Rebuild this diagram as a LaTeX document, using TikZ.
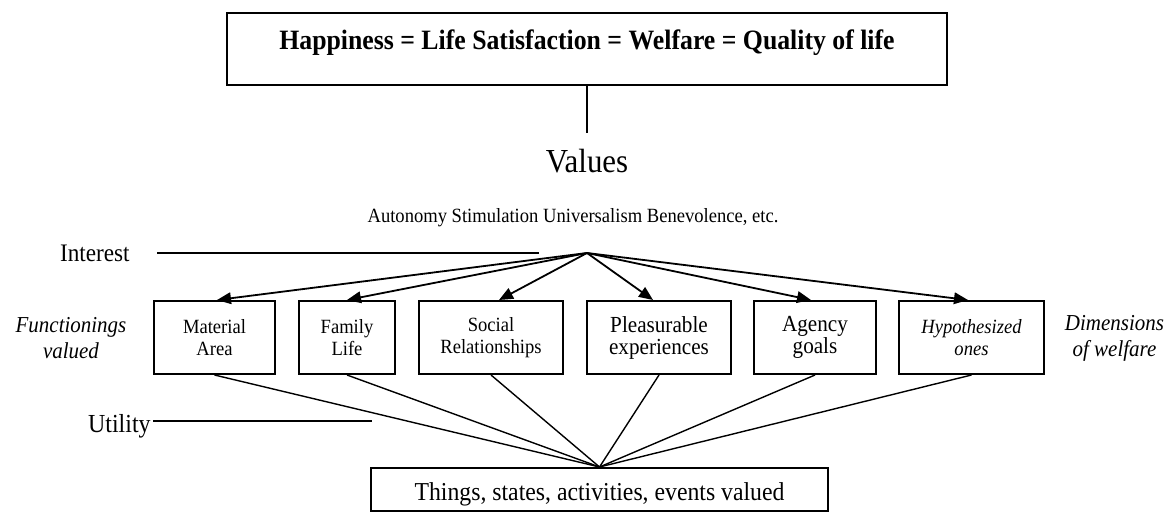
\documentclass[tikz,border=0pt]{standalone}
\usepackage{fontspec}
\setmainfont[FakeStretch=0.92]{Liberation Serif}
\usetikzlibrary{arrows.meta}
\newcommand{\fsz}[2]{\fontsize{#1}{#2}\selectfont}
\begin{document}
\begin{tikzpicture}[x=0.5pt,y=-0.5pt,
  dimbox/.style={draw, line width=1pt, inner sep=0pt, minimum height=36.5pt,
                 align=center, font=\fsz{10.1}{11}},
  bigdim/.style={dimbox, font=\fsz{11.5}{11}},
  side/.style={align=center, inner sep=0pt, font=\itshape\fsz{11.4}{13}},
  link/.style={line width=0.9pt, -{Triangle[length=7pt,width=5.8pt]}},
  tie/.style={line width=0.7pt},
  rule/.style={line width=0.75pt}]
\useasboundingbox (0,0) rectangle (1167,513);

% headline box
\node[draw, line width=1pt, inner sep=0pt, minimum width=360pt,
      text height=18.5pt, text depth=17.5pt, font=\bfseries\fsz{14}{16},
      anchor=base] (title) at (587,50)
  {Happiness = Life Satisfaction = Welfare = Quality of life};

% values
\node[font=\fsz{16.8}{19}, anchor=base, inner sep=0pt] (values) at (587,173) {Values};
\coordinate (valtop) at (587,133);
\draw[line width=0.6pt] (title.south) -- (valtop);

\node[font=\fsz{10.1}{12}, anchor=base, inner sep=0pt] (vlist) at (573,223)
  {Autonomy Stimulation Universalism Benevolence, etc.};

% interest level
\coordinate (apex) at (587,253);
\node[font=\fsz{12.6}{14}, anchor=base east, inner sep=0pt] (interest) at (130,262) {Interest};
\coordinate (intA) at (157,253);
\coordinate (intB) at (539,253);
\draw[rule] (intA) -- (intB);

% dimensions of welfare
\node[dimbox, minimum width=60.5pt] (mat) at (214.5,337.5) {Material\\Area};
\node[dimbox, minimum width=48pt] (fam) at (347,337.5) {Family\\Life};
\node[dimbox, minimum width=72pt] (soc) at (491,337.5) {Social\\Relationships};
\node[bigdim, minimum width=72pt] (pls) at (659,337.5) {Pleasurable\\experiences};
\node[bigdim, minimum width=61pt] (agc) at (815,337.5) {Agency\\goals};
\node[dimbox, minimum width=72.5pt, font=\itshape\fsz{10.1}{11}] (hyp) at (971.5,337.5) {Hypothesized\\ones};

\node[side] (fv) at (71,338) {Functionings\\valued};
\node[side] (dw) at (1114.5,338) {Dimensions\\of welfare};

\draw[link] (apex) -- ([xshift=1.25pt]mat.north);
\draw[link] (apex) -- (fam.north);
\draw[link] (apex) -- ([xshift=4pt]soc.north);
\draw[link] (apex) -- ([xshift=-3pt]pls.north);
\draw[link] (apex) -- ([xshift=-2pt]agc.north);
\draw[link] (apex) -- ([xshift=-1.75pt]hyp.north);

% valued things
\node[draw, line width=1pt, inner sep=0pt, minimum width=228.5pt,
      text height=16pt, text depth=5.5pt, font=\fsz{12.9}{14},
      anchor=base] (things) at (599.5,500)
  {Things, states, activities, events valued};

\foreach \b in {mat,fam,soc,pls,agc,hyp}
  \draw[tie] (\b.south) -- (things.north);

% utility level
\node[font=\fsz{13}{14}, anchor=base east, inner sep=0pt] (utility) at (151,432) {Utility};
\coordinate (utilB) at (372,421);
\draw[rule] ([xshift=1pt]utility.east |- utilB) -- (utilB);
\end{tikzpicture}
\end{document}
